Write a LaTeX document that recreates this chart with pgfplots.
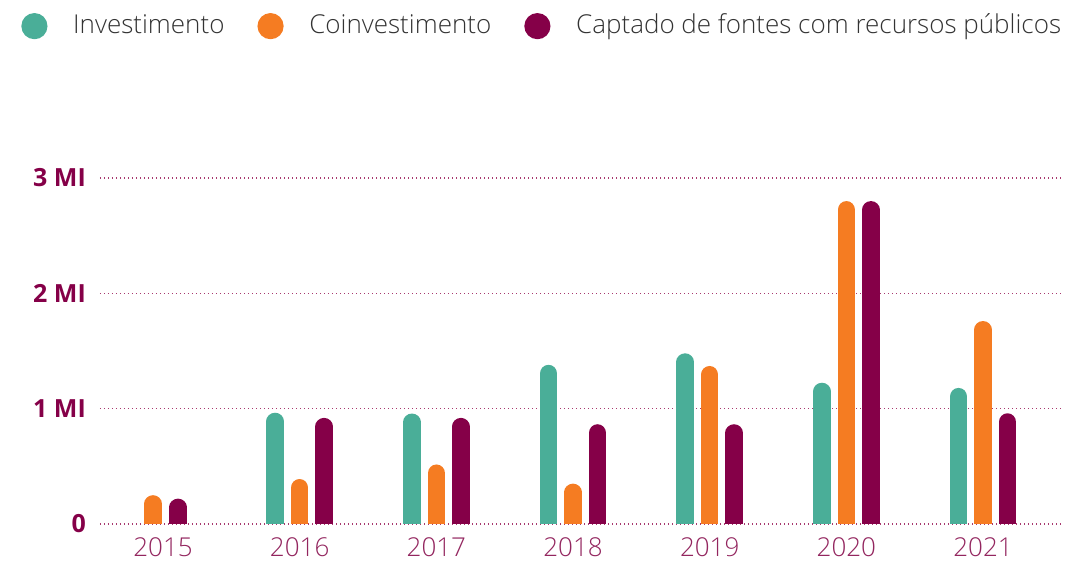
\documentclass[border=0pt]{standalone}
\usepackage{pgfplots}
\pgfplotsset{compat=1.18}
\usepackage{fontspec}
\setmainfont{Open Sans}
\IfFontExistsTF{Open Sans Light}{\newfontfamily\lightfont{Open Sans Light}}{\newfontfamily\lightfont{Open Sans}}
\definecolor{tealc}{HTML}{4AAE98}
\definecolor{orangec}{HTML}{F57C22}
\definecolor{purplec}{HTML}{850048}
\definecolor{xlab}{HTML}{93265F}
\definecolor{gridc}{HTML}{A8396F}
\definecolor{textgray}{HTML}{333333}
\begin{document}
\begin{tikzpicture}
\useasboundingbox (-100pt,-37pt) rectangle (965pt,524pt);
\begin{axis}[
  scale only axis,
  width=963pt, height=369.06pt,
  at={(0pt,0pt)}, anchor=south west,
  xmin=-0.461, xmax=6.585,
  ymin=0, ymax=3.2,
  axis line style={draw=none},
  major tick length=0pt,
  xtick={0,1,2,3,4,5,6},
  xticklabels={2015,2016,2017,2018,2019,2020,2021},
  ytick={0,1,2,3},
  yticklabels={0,1 MI,2 MI,3 MI},
  xticklabel style={inner sep=0pt, anchor=north, yshift=-13pt, text=xlab, font=\lightfont\fontsize{26}{31}\selectfont},
  yticklabel style={inner sep=0pt, anchor=east, xshift=-14pt, text=purplec, font=\bfseries\fontsize{25}{30}\selectfont},
  ymajorgrids,
  major grid style={gridc, line width=1.3pt, dash pattern=on 1.3pt off 2.7pt},
  legend columns=3,
  legend style={at={(axis description cs:-0.0817,1.349)}, anchor=west, draw=none, fill=none, inner sep=0pt, outer sep=0pt,
    font=\lightfont\fontsize{26}{31}\selectfont, text=textgray,
    nodes={inner sep=0pt},
    /tikz/every even column/.append style={column sep=33pt}},
]
\addplot[ycomb, draw=tealc, line width=17.5pt, line cap=round, yshift=-8.75pt, mark=none,
  legend image code/.code={\path[fill=tealc, draw=none] (0pt,7.05pt) circle (13.1pt); \path (30pt,7.05pt);}]
  coordinates {(0.821,0.965) (1.821,0.958) (2.821,1.38) (3.821,1.48) (4.821,1.225) (5.821,1.18)};
\addlegendentry{Investimento}
\addplot[ycomb, draw=orangec, line width=17.5pt, line cap=round, yshift=-8.75pt, mark=none,
  legend image code/.code={\path[fill=orangec, draw=none] (0pt,7.05pt) circle (13.1pt); \path (30pt,7.05pt);}]
  coordinates {(-0.073,0.25) (1,0.39) (2,0.516) (3,0.35) (4,1.37) (5,2.80) (6,1.76)};
\addlegendentry{Coinvestimento}
\addplot[ycomb, draw=purplec, line width=17.5pt, line cap=round, yshift=-8.75pt, mark=none,
  legend image code/.code={\path[fill=purplec, draw=none] (0pt,7.05pt) circle (13.1pt); \path (30pt,7.05pt);}]
  coordinates {(0.11,0.22) (1.179,0.92) (2.179,0.92) (3.179,0.865) (4.179,0.865) (5.179,2.80) (6.179,0.96)};
\addlegendentry{Captado de fontes com recursos públicos}
\end{axis}
\end{tikzpicture}
\end{document}
